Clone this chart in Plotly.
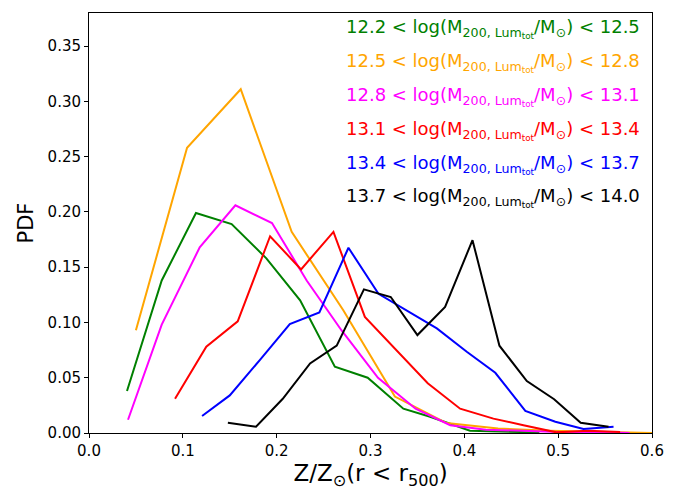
import plotly.graph_objects as go

green_x = [0.0405, 0.0775, 0.114, 0.152, 0.189, 0.225, 0.262, 0.297, 0.335, 0.3635, 0.406, 0.443, 0.48]
green_y = [0.038, 0.138, 0.199, 0.189, 0.158, 0.120, 0.060, 0.050, 0.022, 0.0147, 0.002, 0.001, 0.0005]

orange_x = [0.050, 0.1045, 0.1617, 0.216, 0.271, 0.326, 0.381, 0.436, 0.491, 0.546, 0.600]
orange_y = [0.093, 0.258, 0.311, 0.182, 0.111, 0.033, 0.009, 0.004, 0.002, 0.001, 0.000]

magenta_x = [0.0416, 0.0775, 0.118, 0.156, 0.195, 0.232, 0.269, 0.308, 0.348, 0.385, 0.423, 0.461, 0.5, 0.538, 0.576]
magenta_y = [0.012, 0.098, 0.168, 0.206, 0.190, 0.138, 0.093, 0.050, 0.022, 0.007, 0.003, 0.002, 0.001, 0.001, 0.0]

red_x = [0.0917, 0.125, 0.1585, 0.193, 0.226, 0.2605, 0.294, 0.328, 0.361, 0.3955, 0.431, 0.463, 0.498, 0.532, 0.566]
red_y = [0.031, 0.078, 0.101, 0.178, 0.148, 0.182, 0.105, 0.075, 0.045, 0.022, 0.013, 0.007, 0.0006, 0.002, 0.001]

blue_x = [0.1205, 0.150, 0.182, 0.214, 0.2455, 0.2765, 0.3085, 0.340, 0.3707, 0.4026, 0.433, 0.465, 0.497, 0.527, 0.559]
blue_y = [0.0154, 0.034, 0.066, 0.0986, 0.109, 0.1676, 0.126, 0.110, 0.0946, 0.0735, 0.0545, 0.020, 0.0102, 0.0036, 0.0057]

black_x = [0.148, 0.178, 0.2065, 0.2356, 0.264, 0.293, 0.3216, 0.350, 0.3795, 0.4087, 0.4374, 0.4666, 0.4957, 0.524, 0.5537]
black_y = [0.0093, 0.0057, 0.031, 0.063, 0.079, 0.130, 0.123, 0.0886, 0.114, 0.1745, 0.079, 0.047, 0.0305, 0.0093, 0.0057]

bins_lo = ["12.2", "12.5", "12.8", "13.1", "13.4", "13.7"]
bins_hi = ["12.5", "12.8", "13.1", "13.4", "13.7", "14.0"]
colors = ["#008000", "#FFA500", "#FF00FF", "#FF0000", "#0000FF", "#000000"]

series = [(green_x, green_y), (orange_x, orange_y), (magenta_x, magenta_y),
          (red_x, red_y), (blue_x, blue_y), (black_x, black_y)]

fig = go.Figure()
for (xs, ys), c in zip(series, colors):
    fig.add_trace(go.Scatter(x=xs, y=ys, mode="lines",
                             line=dict(color=c, width=2), showlegend=False))

font = "DejaVu Sans, sans-serif"
ypos = [0.962, 0.883, 0.801, 0.721, 0.640, 0.560]
for lo, hi, c, yp in zip(bins_lo, bins_hi, colors, ypos):
    txt = (f"{lo} &lt; log(M<sub>200, Lum<sub>tot</sub></sub>/M<sub>⊙</sub>) &lt; {hi}")
    fig.add_annotation(x=0.982, y=yp, xref="paper", yref="paper", text=txt,
                       showarrow=False, xanchor="right", yanchor="middle",
                       font=dict(family=font, size=18, color=c))

axis_common = dict(showline=True, linecolor="black", linewidth=1, mirror=True,
                   ticks="outside", ticklen=4, tickcolor="black", showgrid=False,
                   zeroline=False, tickfont=dict(family=font, size=15, color="black"))

fig.update_xaxes(range=[0, 0.6], dtick=0.1, tickformat=".1f",
                 title=dict(text="Z/Z<sub>⊙</sub>(r &lt; r<sub>500</sub>)",
                            font=dict(family=font, size=23, color="black"), standoff=4),
                 **axis_common)
fig.update_yaxes(range=[0, 0.38], dtick=0.05, tickformat=".2f",
                 title=dict(text="PDF", font=dict(family=font, size=21, color="black"), standoff=8),
                 **axis_common)

fig.update_layout(width=673, height=485, margin=dict(l=81, r=29, t=5, b=60),
                  plot_bgcolor="white", paper_bgcolor="white")

fig.write_html("out.html")
